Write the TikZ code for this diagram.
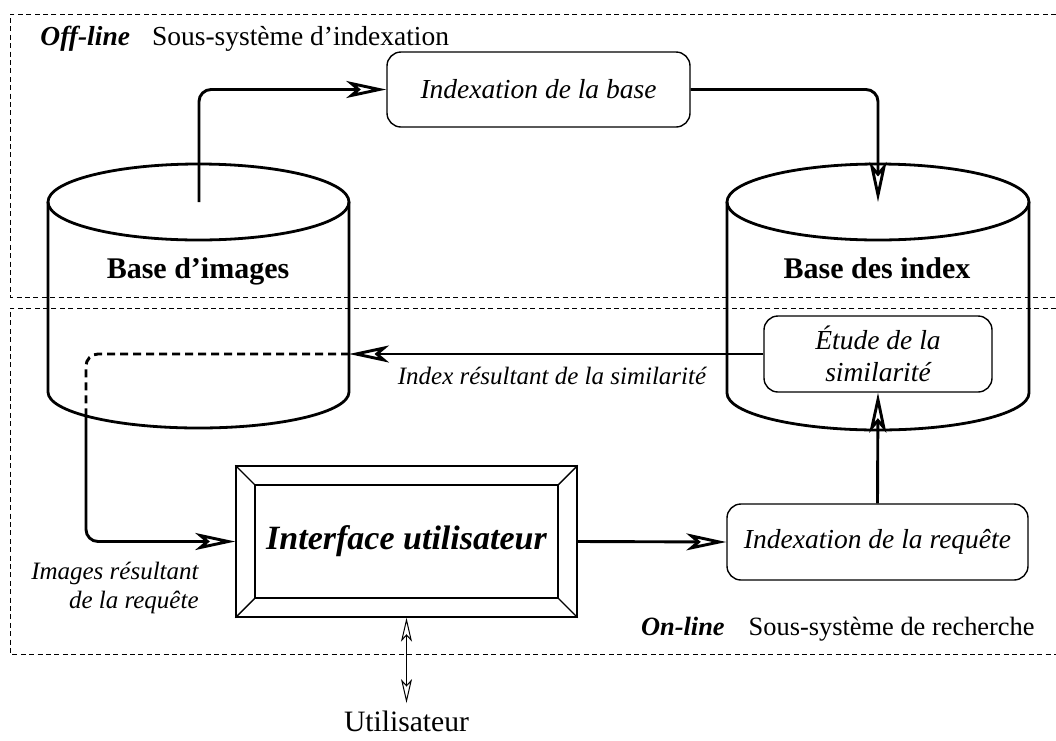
\documentclass[tikz,border=0pt]{standalone}
\usepackage{fontspec}
\setmainfont{Liberation Serif}
\usetikzlibrary{arrows.meta}
\newcommand\mfs{\fontsize{13.75}{16}\selectfont}
\newcommand\sfs{\fontsize{12.5}{14.5}\selectfont}
\begin{document}
\begin{tikzpicture}[x=0.5pt,y=-0.5pt,
  frame/.style={line width=0.5pt, dash pattern=on 2.5pt off 1.7pt},
  cyl/.style={line width=1.4pt},
  conn/.style={line width=1.45pt, rounded corners=6pt, -{Stealth[open,length=20pt,width=8.5pt,inset=5pt]}},
  dconn/.style={line width=1.45pt, rounded corners=6pt, dash pattern=on 4pt off 2.5pt},
  rbox/.style={draw, line width=0.7pt, rounded corners=7pt, fill=white, font=\mfs\itshape, inner sep=0pt},
  lab/.style={font=\mfs, inner sep=0pt},
  baselab/.style={font=\fontsize{15}{18}\selectfont\bfseries, anchor=base, inner sep=0pt},
  bevel/.style={line width=0.7pt},
  dbl/.style={line width=0.5pt, {Stealth[open,length=12pt,width=5.5pt,inset=3pt]}-{Stealth[open,length=12pt,width=5.5pt,inset=3pt]}}
]
\useasboundingbox (0,0) rectangle (1056,740);
% frames
\draw[frame] (1056,14) -- (10,14) -- (10,297) -- (1056,297);
\draw[frame] (1056,308) -- (10,308) -- (10,654) -- (1056,654);
% left cylinder
\draw[cyl] (198.5,202) ellipse [x radius=150.5, y radius=38];
\draw[cyl] (48,202) -- (48,392) .. controls (48,411.9) and (115.4,428) .. (198.5,428)
  .. controls (281.6,428) and (349,411.9) .. (349,392) -- (349,202);
% right cylinder
\draw[cyl] (878,202) ellipse [x radius=151, y radius=38];
\draw[cyl] (727,202) -- (727,393) .. controls (727,413.4) and (794.6,430) .. (878,430)
  .. controls (961.4,430) and (1029,413.4) .. (1029,393) -- (1029,202);
\node[baselab] (bil) at (198,278) {Base d’images};
\node[baselab] (bxl) at (877,278) {Base des index};
% coordinates
\coordinate (bitop) at (199,202);
\coordinate (bxtop) at (878,202);
\coordinate (biright) at (349,354);
\coordinate (bibot) at (86,416);
% boxes
\node[rbox, minimum width=151.5pt, minimum height=37.5pt] (ib) at (538.5,89.5) {Indexation de la base};
\node[rbox, minimum width=114pt, minimum height=38pt, align=center] (et) at (878,354) {Étude de la\\similarité};
\node[rbox, minimum width=150.5pt, minimum height=38pt] (ir) at (877.5,542) {Indexation de la requête};
\node[draw, line width=0.7pt, fill=white, minimum width=170.5pt, minimum height=75.5pt, inner sep=0pt] (iu) at (406.5,541.5) {};
\node[draw, line width=0.7pt, minimum width=151.5pt, minimum height=56.5pt, inner sep=0pt,
  font=\fontsize{17}{20}\selectfont\bfseries\itshape] (iui) at (406.5,541.5) {Interface utilisateur};
\draw[bevel] (iu.north west) -- (iui.north west) (iu.north east) -- (iui.north east)
  (iu.south west) -- (iui.south west) (iu.south east) -- (iui.south east);
% labels
\node[lab, anchor=base west] (off) at (40,45) {\textbf{\textit{Off-line}}\hspace{11pt}Sous-système d’indexation};
\node[lab, font=\fontsize{13.2}{16}\selectfont, anchor=base east] (on) at (1035,635) {\textbf{\textit{On-line}}\hspace{12pt}Sous-système de recherche};
\node[lab, font=\sfs\itshape, anchor=base] (irs) at (552,384) {Index résultant de la similarité};
\node[lab, font=\sfs\itshape, align=right, anchor=east] (imr) at (199,588) {Images résultant\\de la requête};
\node[font=\fontsize{14.8}{18}\selectfont, anchor=base, inner sep=3.5pt] (user) at (406.5,731) {Utilisateur};
% connectors
\draw[conn] (bitop) |- (ib.west);
\draw[conn] (ib.east) -| (bxtop);
\draw[conn] (et.west) -- (biright);
\draw[dconn] (biright) -| (bibot);
\draw[conn] (bibot) |- (iu.west);
\draw[conn] (iu.east) -- (ir.west);
\draw[conn] (ir.north) -- (et.south);
\draw[dbl] (iu.south) -- (user.north);
\end{tikzpicture}
\end{document}
